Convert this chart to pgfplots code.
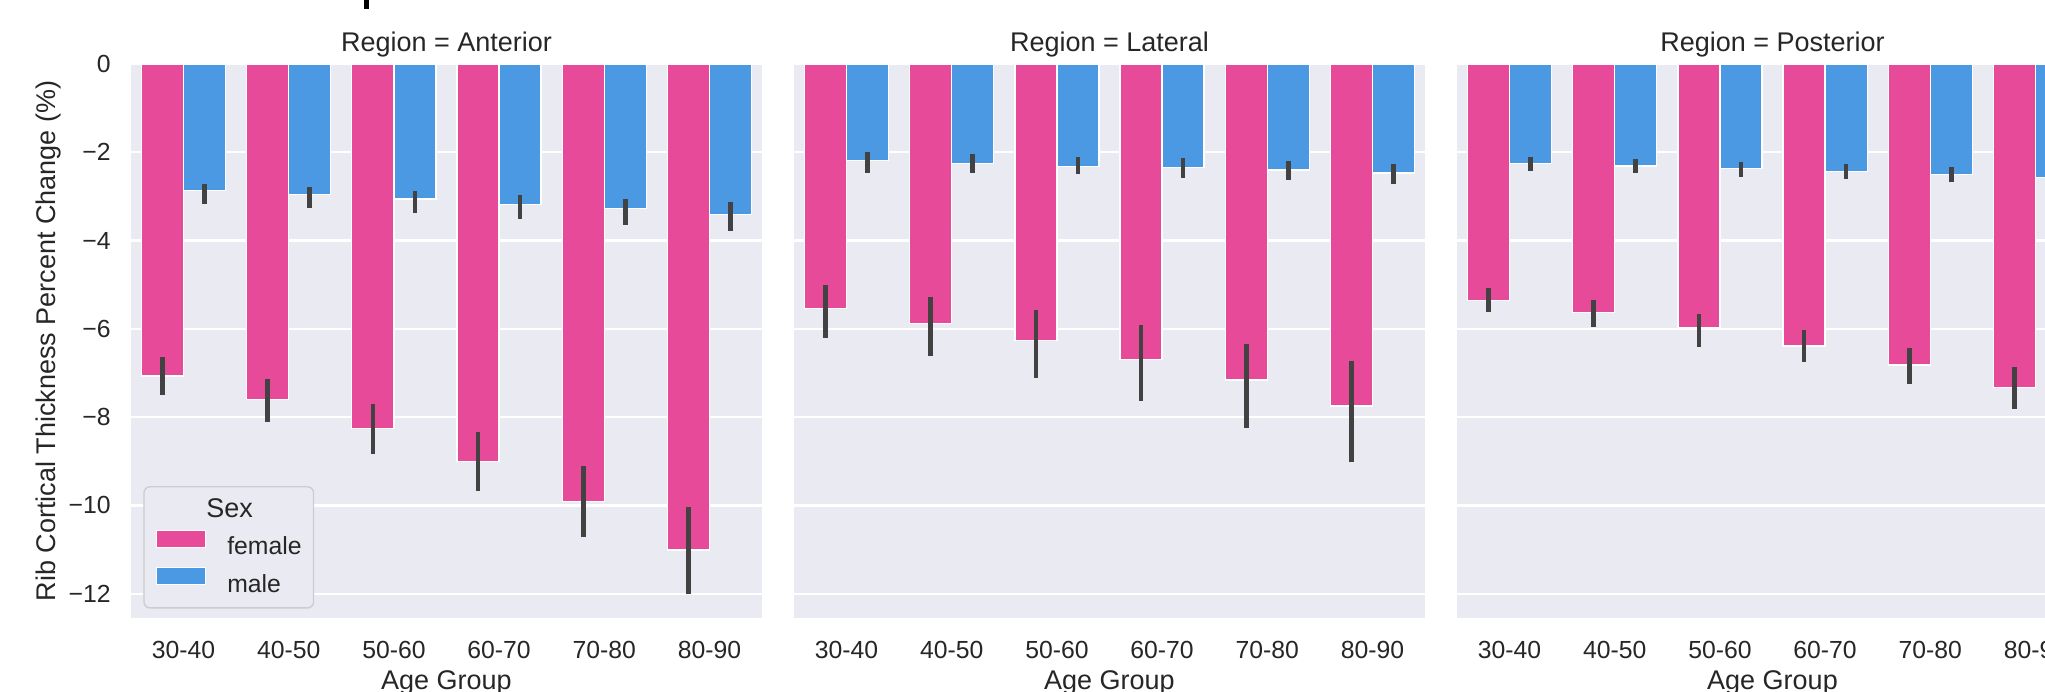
\documentclass[border=0pt]{standalone}
\usepackage{fontspec}
\setmainfont{Liberation Sans}
\usepackage{pgfplots}
\pgfplotsset{compat=1.18}
\usepackage{pgfplotstable}
\newlength{\px}\setlength{\px}{0.4444pt}
\definecolor{fem}{RGB}{232,74,154}
\definecolor{mal}{RGB}{76,153,227}
\definecolor{bgcol}{RGB}{234,234,242}
\definecolor{errcol}{RGB}{66,66,66}
\definecolor{textcol}{RGB}{38,38,38}
\definecolor{legdraw}{RGB}{204,204,204}

% columns: x, mean, upper error, lower error
\pgfplotstableread{
x y ep em
0 -7.07 0.38 0.37
1 -7.60 0.41 0.46
2 -8.25 0.50 0.53
3 -9.01 0.63 0.61
4 -9.91 0.75 0.75
5 -11.01 0.91 0.94
}\AF
\pgfplotstableread{
x y ep em
0 -2.87 0.10 0.24
1 -2.96 0.13 0.24
2 -3.06 0.13 0.27
3 -3.19 0.17 0.26
4 -3.27 0.15 0.32
5 -3.41 0.24 0.33
}\AM
\pgfplotstableread{
x y ep em
0 -5.54 0.47 0.62
1 -5.88 0.54 0.68
2 -6.26 0.64 0.79
3 -6.70 0.73 0.87
4 -7.16 0.77 1.04
5 -7.75 0.96 1.21
}\LF
\pgfplotstableread{
x y ep em
0 -2.19 0.14 0.22
1 -2.25 0.16 0.16
2 -2.32 0.17 0.13
3 -2.35 0.17 0.19
4 -2.40 0.14 0.18
5 -2.47 0.15 0.20
}\LM
\pgfplotstableread{
x y ep em
0 -5.35 0.23 0.21
1 -5.63 0.22 0.28
2 -5.97 0.25 0.38
3 -6.39 0.32 0.30
4 -6.82 0.34 0.37
5 -7.33 0.41 0.43
}\PF
\pgfplotstableread{
x y ep em
0 -2.25 0.10 0.12
1 -2.31 0.10 0.11
2 -2.37 0.09 0.13
3 -2.44 0.13 0.12
4 -2.50 0.12 0.12
5 -2.57 0.12 0.13
}\PM

\newcommand{\tickfont}{\fontsize{11}{13}\selectfont}
\newcommand{\labfont}{\fontsize{12}{14}\selectfont}

\pgfplotsset{
  rib/.style={
    scale only axis, width=631\px, height=554\px, anchor=south west,
    xmin=-0.5, xmax=5.5, ymin=-12.55, ymax=0,
    axis background/.style={fill=bgcol},
    axis line style={draw=none}, major tick length=0pt, tick style={draw=none},
    ymajorgrids, grid style={white, line width=2.2\px},
    xtick={0,1,2,3,4,5},
    xticklabels={30-40,40-50,50-60,60-70,70-80,80-90},
    ytick={0,-2,-4,-6,-8,-10,-12},
    xticklabel style={inner sep=0pt, anchor=base, yshift=-41\px, font=\tickfont, text=textcol},
    yticklabel style={inner sep=0pt, anchor=east, xshift=-20\px, font=\tickfont, text=textcol},
    every axis title shift=0pt,
    title style={at={(0.5,1)}, anchor=base, yshift=12\px, inner sep=0pt, font=\labfont, text=textcol},
    xlabel={Age Group},
    xlabel style={at={(axis description cs:0.5,0)}, anchor=base, yshift=-72\px, inner sep=0pt, font=\labfont, text=textcol},
  },
  fbar/.style={ybar, bar width=0.4, bar shift=0pt, fill=fem, draw=white, line width=1.3\px,
    error bars/.cd, y dir=both, y explicit, error mark=none,
    error bar style={line width=4.7\px, draw=errcol, line cap=rect}},
  mbar/.style={ybar, bar width=0.4, bar shift=0pt, fill=mal, draw=white, line width=1.3\px,
    error bars/.cd, y dir=both, y explicit, error mark=none,
    error bar style={line width=4.7\px, draw=errcol, line cap=rect}},
}

\begin{document}
\begin{tikzpicture}
\useasboundingbox (0,0) rectangle (2045\px,-692\px);
\clip (0,0) rectangle (2045\px,-692\px);
\fill[black] (364\px,0) rectangle (369\px,-9\px);

\begin{axis}[rib, at={(131\px,-618\px)},
  title={Region = Anterior},
  yticklabels={0,−2,−4,−6,−8,−10,−12},
  ylabel={Rib Cortical Thickness Percent Change (\%)},
  ylabel style={at={(axis description cs:-0.1315,0.5)}, anchor=center, inner sep=0pt, font=\labfont, text=textcol},
  legend cell align=left,
  legend image code/.code={\draw[#1, sharp corners, line width=1.3\px] (0pt,0pt) rectangle (49\px,17\px);},
  legend style={at={(axis description cs:0.0195,0.238)}, anchor=north west,
    draw=legdraw, line width=1.3\px, fill=bgcol, rounded corners=6\px,
    inner xsep=12\px, inner ysep=4.3\px, row sep=0pt,
    nodes={inner sep=0pt, text height=26\px, text depth=11.5\px, font=\tickfont, text=textcol},
    /tikz/every odd column/.append style={column sep=21\px}},
]
\addlegendimage{empty legend}
\addlegendentry{\hspace*{-21\px}{\labfont Sex}}
\addplot[fbar] table[x expr=\thisrow{x}-0.2, y=y, y error plus=ep, y error minus=em] {\AF};
\addlegendentry{female}
\addplot[mbar] table[x expr=\thisrow{x}+0.2, y=y, y error plus=ep, y error minus=em] {\AM};
\addlegendentry{male}
\end{axis}

\begin{axis}[rib, at={(794\px,-618\px)},
  title={Region = Lateral}, yticklabels={}]
\addplot[fbar] table[x expr=\thisrow{x}-0.2, y=y, y error plus=ep, y error minus=em] {\LF};
\addplot[mbar] table[x expr=\thisrow{x}+0.2, y=y, y error plus=ep, y error minus=em] {\LM};
\end{axis}

\begin{axis}[rib, at={(1457\px,-618\px)},
  title={Region = Posterior}, yticklabels={}]
\addplot[fbar] table[x expr=\thisrow{x}-0.2, y=y, y error plus=ep, y error minus=em] {\PF};
\addplot[mbar] table[x expr=\thisrow{x}+0.2, y=y, y error plus=ep, y error minus=em] {\PM};
\end{axis}
\end{tikzpicture}
\end{document}
